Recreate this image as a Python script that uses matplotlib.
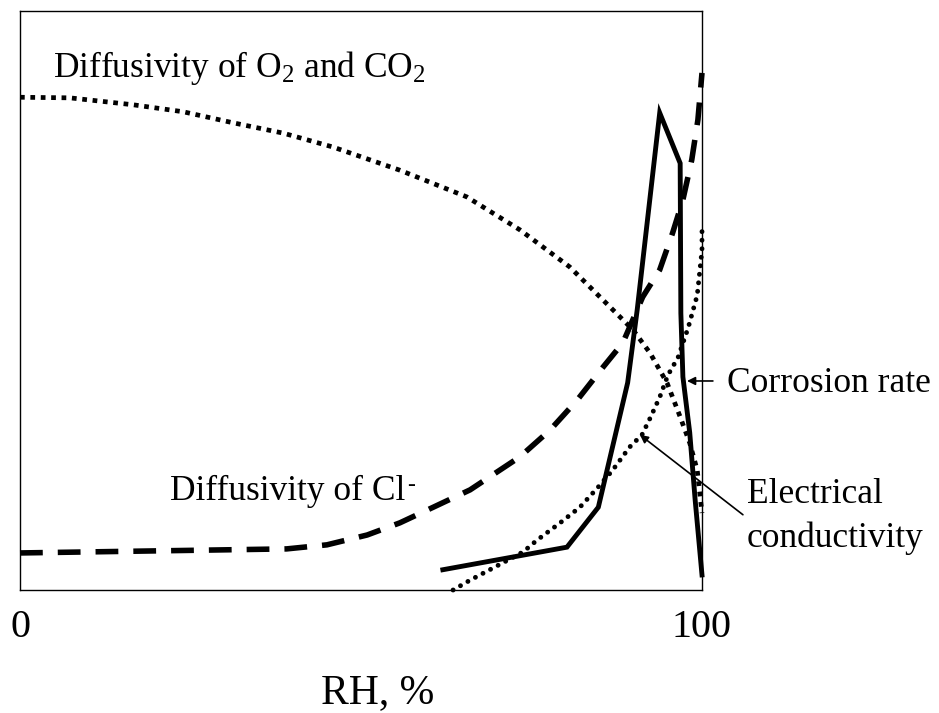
import numpy as np
import matplotlib.pyplot as plt

plt.rcParams['font.family'] = ['Liberation Serif', 'DejaVu Serif']
plt.rcParams['mathtext.default'] = 'regular'

# curves (x = RH %, y = relative level 0..1)
o2_rh = [0, 7.3, 16.6, 23.9, 31.2, 38.6, 45.9, 55.7, 65.5, 73.3, 80.6, 86.5, 89.9, 92.4, 94.9, 96.8, 98.2, 99.3, 100]
o2_val = [0.851, 0.850, 0.838, 0.826, 0.807, 0.789, 0.765, 0.725, 0.679, 0.622, 0.558, 0.489, 0.449, 0.409, 0.357, 0.299, 0.254, 0.207, 0.133]

cl_rh = [0, 39.1, 45.0, 50.9, 55.7, 60.6, 66.0, 73.3, 77.7, 81.7, 85.5, 88.4, 91.3, 93.8, 95.7, 97.2, 98.5, 99.4, 100]
cl_val = [0.064, 0.071, 0.078, 0.095, 0.116, 0.143, 0.173, 0.230, 0.276, 0.328, 0.385, 0.427, 0.506, 0.553, 0.617, 0.674, 0.743, 0.812, 0.893]

cond_rh = [63.5, 66.0, 70.8, 73.8, 75.8, 79.2, 82.1, 84.8, 86.9, 89.4, 91.2, 92.4, 93.8, 95.0, 96.5, 98.0, 99.3, 100, 100]
cond_val = [0.0, 0.017, 0.047, 0.066, 0.086, 0.116, 0.143, 0.178, 0.207, 0.247, 0.268, 0.297, 0.333, 0.371, 0.402, 0.454, 0.509, 0.587, 0.622]

corr_rh = [62.0, 80.2, 84.8, 89.1, 90.5, 93.8, 96.8, 96.9, 97.2, 98.2, 99.0, 100]
corr_val = [0.035, 0.074, 0.143, 0.358, 0.484, 0.824, 0.737, 0.478, 0.368, 0.272, 0.155, 0.026]

fig = plt.figure(figsize=(9.39, 7.13), dpi=100)
ax = fig.add_axes([0.0213, 0.1725, 0.7263, 0.8121])

ax.plot(o2_rh, o2_val, color='black', lw=3.4, linestyle=(0, (1, 1.2)),
        dash_capstyle='butt', clip_on=False)
ax.plot(cl_rh, cl_val, color='black', lw=4, linestyle=(0, (4.1, 2.7)),
        dash_capstyle='butt', clip_on=False)
ax.plot(cond_rh, cond_val, color='black', lw=3.5, linestyle=(0, (0.01, 1.75)),
        dash_capstyle='round', clip_on=False)
ax.plot(corr_rh, corr_val, color='black', lw=3.5, solid_joinstyle='miter', clip_on=False)

ax.set_xlim(0, 100)
ax.set_ylim(0, 1)
ax.set_yticks([])
ax.set_xticks([0, 100])
ax.set_xticklabels(['0', '100'], fontsize=29)
ax.tick_params(axis='x', length=0, pad=14)
for s in ax.spines.values():
    s.set_linewidth(1.0)

fs = 25.5
ax.text(4.8, 0.886, 'Diffusivity of O$_2$ and CO$_2$', fontsize=fs, va='baseline', ha='left')
cl = ax.text(22.0, 0.155, 'Diffusivity of Cl', fontsize=fs, va='baseline', ha='left')
ax.annotate('-', xy=(1, 1), xycoords=cl, xytext=(1, 0), textcoords='offset points',
            fontsize=17, ha='left', va='top')
ax.text(103.7, 0.342, 'Corrosion rate', fontsize=fs, va='baseline', ha='left', clip_on=False)
ax.text(106.6, 0.150, 'Electrical', fontsize=fs, va='baseline', ha='left', clip_on=False)
ax.text(106.6, 0.074, 'conductivity', fontsize=fs, va='baseline', ha='left', clip_on=False)
ax.text(52.5, -0.195, 'RH, %', fontsize=30, va='baseline', ha='center', clip_on=False)

arrow = dict(arrowstyle='-|>', color='black', lw=1.2, mutation_scale=12, shrinkA=0, shrinkB=0)
ax.annotate('', xy=(97.8, 0.361), xytext=(101.6, 0.361), arrowprops=arrow, annotation_clip=False)
ax.annotate('', xy=(90.9, 0.268), xytext=(106.0, 0.130), arrowprops=arrow, annotation_clip=False)

fig.savefig('out.png', dpi=100)
